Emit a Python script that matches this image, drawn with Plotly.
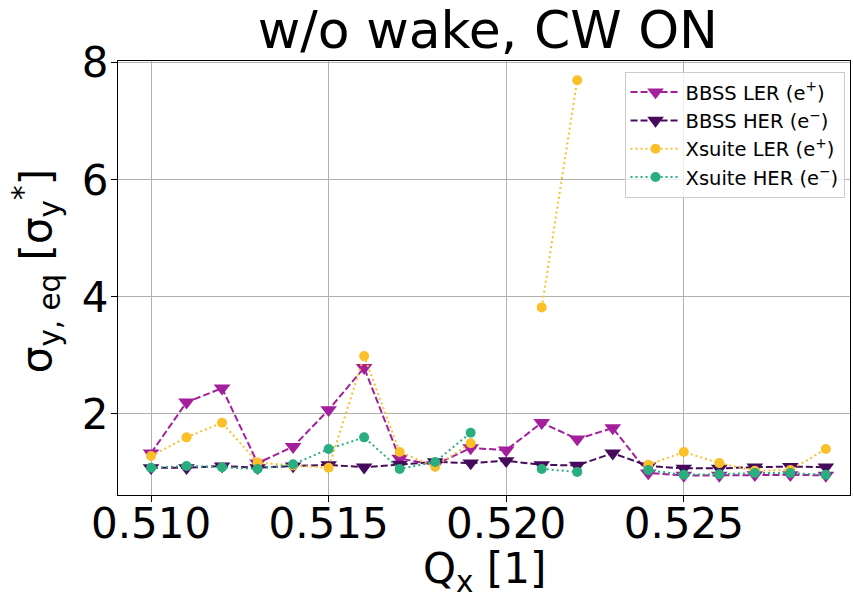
import plotly.graph_objects as go

qx = [0.510, 0.511, 0.512, 0.513, 0.514, 0.515, 0.516, 0.517, 0.518, 0.519,
      0.520, 0.521, 0.522, 0.523, 0.524, 0.525, 0.526, 0.527, 0.528, 0.529]

bbss_ler = [1.33, 2.20, 2.44, 1.16, 1.44, 2.07, 2.79, 1.24, 1.13, 1.42,
            1.38, 1.85, 1.57, 1.76, 0.99, 0.95, 0.95, 0.96, 0.96, 0.95]
bbss_her = [1.08, 1.08, 1.11, 1.08, 1.11, 1.13, 1.09, 1.14, 1.18, 1.16,
            1.20, 1.13, 1.12, 1.33, 1.11, 1.07, 1.07, 1.09, 1.10, 1.09]
xs_ler = [1.28, 1.60, 1.85, 1.17, 1.12, 1.08, 2.99, 1.35, 1.10, 1.50,
          None, 3.82, 7.70, None, 1.13, 1.35, 1.16, 1.03, 1.04, 1.40]
xs_her = [1.08, 1.11, 1.09, 1.06, 1.14, 1.40, 1.60, 1.06, 1.18, 1.68,
          None, 1.06, 1.01, None, 1.04, 0.96, 0.97, 0.99, 0.99, 0.96]

names = ["BBSS LER (e<sup>+</sup>)", "BBSS HER (e<sup>−</sup>)",
         "Xsuite LER (e<sup>+</sup>)", "Xsuite HER (e<sup>−</sup>)"]
colors = ["#a31f9b", "#470b5c", "#fbbf2a", "#2aae80"]
x_ticks = [0.510, 0.515, 0.520, 0.525]
x_ticktext = ["0.510", "0.515", "0.520", "0.525"]
y_ticks = [2, 4, 6, 8]

FONT = "DejaVu Sans"
fig = go.Figure()
series = [bbss_ler, bbss_her, xs_ler, xs_her]
for i, ys in enumerate(series):
    is_bbss = i < 2
    fig.add_trace(go.Scatter(
        x=qx, y=ys, name=names[i], mode="lines+markers",
        connectgaps=False,
        line=dict(color=colors[i], width=2,
                  dash="7px,3px" if is_bbss else "2px,3px"),
        marker=dict(symbol="triangle-down" if is_bbss else "circle",
                    size=14.5 if is_bbss else 10, color=colors[i],
                    line=dict(width=0)),
    ))

fig.update_layout(
    width=853, height=594,
    margin=dict(l=118, r=3, t=61, b=99, autoexpand=False),
    paper_bgcolor="white", plot_bgcolor="white",
    font=dict(family=FONT, color="black"),
    title=dict(text="w/o wake, CW ON", x=0.572, xanchor="center",
               y=0.949, yanchor="middle",
               font=dict(family=FONT, size=52, color="black")),
    legend=dict(x=0.692, y=0.975, xanchor="left", yanchor="top",
                bgcolor="rgba(255,255,255,0.8)", bordercolor="#cccccc",
                borderwidth=1, font=dict(family=FONT, size=19.5),
                itemwidth=50, tracegroupgap=0),
    showlegend=True,
    annotations=[
        dict(text="Q<sub>x</sub> [1]", xref="paper", yref="paper",
             x=0.5, y=-0.108, xanchor="center", yanchor="top",
             showarrow=False, font=dict(family=FONT, size=42)),
        dict(text="σ<sub>y, eq</sub> [σ<sub>y</sub><sup>*</sup>]",
             xref="paper", yref="paper", x=-0.111, y=0.515,
             xanchor="center", yanchor="middle", textangle=-90,
             showarrow=False, font=dict(family=FONT, size=42)),
    ],
)
fig.update_xaxes(
    range=[0.50907, 0.52968], tickvals=x_ticks, ticktext=x_ticktext,
    ticks="outside", ticklen=6, tickcolor="black",
    showgrid=True, gridcolor="#b0b0b0", gridwidth=1,
    showline=True, linecolor="black", linewidth=1, mirror=True,
    zeroline=False, automargin=False, ticklabelstandoff=-14,
    tickfont=dict(family=FONT, size=42),
)
fig.update_yaxes(
    range=[0.615, 8.03], tickvals=y_ticks,
    ticks="outside", ticklen=6, tickcolor="black",
    showgrid=True, gridcolor="#b0b0b0", gridwidth=1,
    showline=True, linecolor="black", linewidth=1, mirror=True,
    zeroline=False, automargin=False, ticklabelstandoff=-6,
    tickfont=dict(family=FONT, size=42),
)

fig.write_html("out.html")
